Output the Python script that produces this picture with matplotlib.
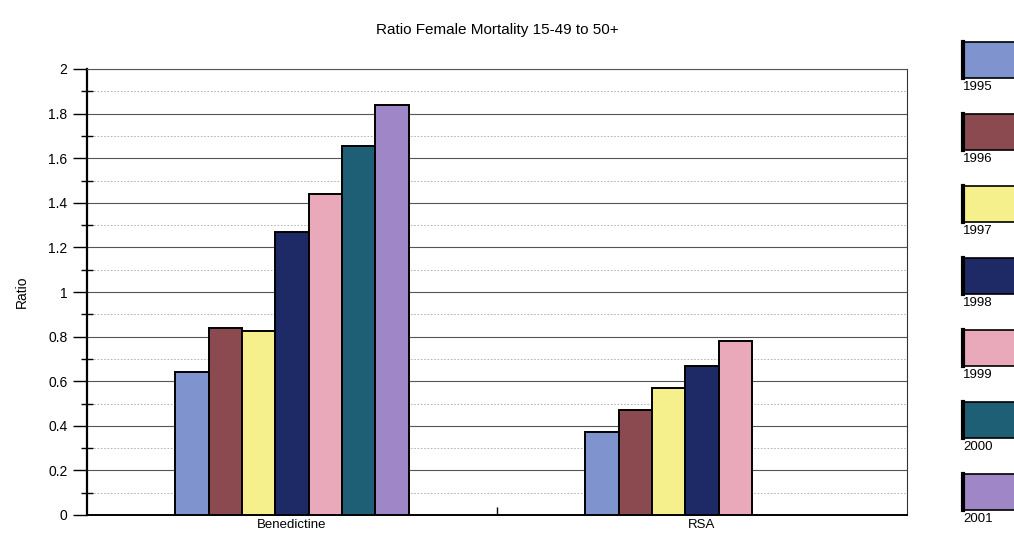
import numpy as np
import matplotlib.pyplot as plt
from matplotlib.patches import Rectangle
from matplotlib.ticker import MultipleLocator

plt.rcParams['font.family'] = ['Liberation Sans', 'DejaVu Sans']

categories = ["Benedictine", "RSA"]
years = ["1995", "1996", "1997", "1998", "1999", "2000", "2001"]
colors = ["#7f93cf", "#8a4a4f", "#f6f08c", "#1d2a66", "#eaa9ba", "#1f5f76", "#9f86c6"]
# ratio per year, [Benedictine, RSA]; RSA has no data for 2000/2001
values = {
    "1995": [0.64, 0.37],
    "1996": [0.84, 0.47],
    "1997": [0.825, 0.57],
    "1998": [1.27, 0.67],
    "1999": [1.44, 0.78],
    "2000": [1.655, np.nan],
    "2001": [1.84, np.nan],
}

W, H = 1014, 539
fig = plt.figure(figsize=(W / 100, H / 100), dpi=100)
ax = fig.add_axes([87 / W, 1 - 515 / H, 820 / W, 446 / H])

group_w = 0.57
bw = group_w / len(years)
x = np.arange(len(categories))
for i, (yr, c) in enumerate(zip(years, colors)):
    ax.bar(x - group_w / 2 + bw * (i + 0.5), values[yr], bw, color=c,
           edgecolor="black", linewidth=1.4, zorder=3)

ax.set_xlim(-0.5, 1.5)
ax.set_ylim(0, 2)
ax.yaxis.set_minor_locator(MultipleLocator(0.1))
ax.set_yticks(np.arange(0, 2.01, 0.2))
ax.set_yticklabels(["0", "0.2", "0.4", "0.6", "0.8", "1", "1.2", "1.4", "1.6", "1.8", "2"])
ax.grid(which="major", axis="y", color="#555555", linewidth=0.8, zorder=0)
ax.grid(which="minor", axis="y", color="#aaaaaa", linewidth=0.6, linestyle=(0, (2, 2)), zorder=0)
ax.tick_params(axis="y", which="major", length=10, width=1, labelsize=10, pad=4)
ax.tick_params(axis="y", which="minor", length=8, width=1, direction="inout")
ax.set_xticks(x)
ax.set_xticklabels(categories, fontsize=9.5)
ax.set_xticks([0.5], minor=True)
ax.tick_params(axis="x", which="major", length=0, pad=3)
ax.tick_params(axis="x", which="minor", length=6, width=1, direction="in")
ax.spines["left"].set_linewidth(1.6)
ax.spines["bottom"].set_linewidth(1.4)
ax.spines["top"].set_color("#555555")
ax.spines["right"].set_color("#333333")
ax.set_ylabel("Ratio", fontsize=10, labelpad=14)

fig.text(0.5 * (87 + 907) / W, 1 - 30 / H, "Ratio Female Mortality 15-49 to 50+",
         ha="center", va="center", fontsize=11)

# legend: swatch above each year label
lg = fig.add_axes([0, 0, 1, 1])
lg.set_xlim(0, W)
lg.set_ylim(H, 0)
lg.axis("off")
for i, (yr, c) in enumerate(zip(years, colors)):
    top = 42 + i * 72
    lg.add_patch(Rectangle((962, top), 60, 36, facecolor=c, edgecolor="black", linewidth=1.2))
    lg.plot([963, 963], [top, top + 36], color="black", linewidth=3)
    lg.text(963, top + 45, yr, ha="left", va="center", fontsize=9.5)

fig.savefig("out.png", dpi=100)
